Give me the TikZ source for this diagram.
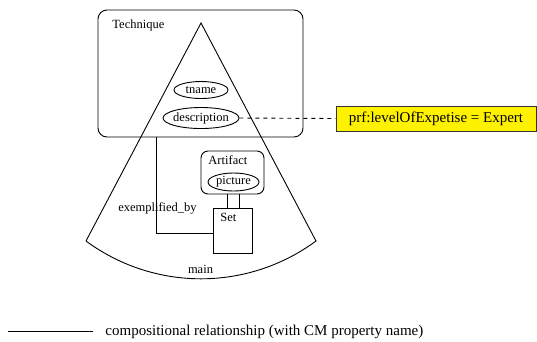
\documentclass[tikz,border=0pt]{standalone}
\usepackage{fontspec}
\setmainfont{Liberation Serif}
\usetikzlibrary{shapes.geometric}
\begin{document}
\begin{tikzpicture}[x=1pt,y=-1pt,line width=0.9pt,
  lbl/.style={font=\fontsize{12.5}{14}\selectfont, inner sep=0pt},
  big/.style={font=\fontsize{15}{17}\selectfont, inner sep=0pt},
  attr/.style={draw, ellipse, inner sep=0pt, lbl},
  classbox/.style={draw, rounded corners=#1, inner sep=0pt},
  setbox/.style={draw, inner sep=0pt},
  note/.style={draw=black!80, fill=yellow, inner sep=0pt, big},
  link/.style={dash pattern=on 4pt off 4pt},
]
\useasboundingbox (0,0) rectangle (537,341);

% class Technique
\node[classbox=9pt, minimum width=205pt, minimum height=127pt] (tech) at (200.5,73.5) {};
\node[lbl, anchor=west] (techlbl) at (112,25) {Technique};

% the "main" view fan
\draw (86,241) -- (201,23) -- (316,241)
      .. controls (247.6,291.4) and (154.4,291.4) .. (86,241);
\node[lbl] (mainlbl) at (200.5,269) {main};

% attributes of Technique
\node[attr, minimum width=54pt, minimum height=17pt] (tname) at (201,90) {\makebox[0pt]{tname}};
\node[attr, minimum width=76pt, minimum height=21pt] (desc) at (201,118) {\makebox[0pt]{description}};

% class Artifact with its attribute
\node[classbox=7pt, minimum width=63pt, minimum height=43pt] (art) at (232.5,172.5) {};
\node[lbl, anchor=west] (artlbl) at (208,160) {Artifact};
\node[attr, minimum width=51pt, minimum height=18pt] (pic) at (233.5,182) {\makebox[0pt]{picture}};

% Set container
\node[setbox, minimum width=39pt, minimum height=45pt] (set) at (232.5,230.5) {};
\node[lbl, anchor=west] (setlbl) at (220,217) {Set};

% Artifact -- Set
\draw ([xshift=-5.5pt]art.south) -- ([xshift=-5.5pt]set.north);
\draw ([xshift=6.5pt]art.south) -- ([xshift=6.5pt]set.north);

% Technique -- Set (exemplified_by)
\draw ([xshift=-44.5pt]tech.south) |- ([yshift=-2.5pt]set.west);
\node[lbl] (exlbl) at (157.5,208) {exemplified\_by};

% property note
\node[note, minimum width=200pt, minimum height=25pt] (prf) at (436,118.5) {prf:levelOfExpetise = Expert};
\draw[link] (desc.east) -- (prf.west);

% legend
\coordinate (legA) at (8,331);
\coordinate (legB) at (93,331);
\draw (legA) -- (legB);
\node[big, anchor=base west] (leglbl) at (105,335) {compositional relationship (with CM property name)};
\end{tikzpicture}
\end{document}
